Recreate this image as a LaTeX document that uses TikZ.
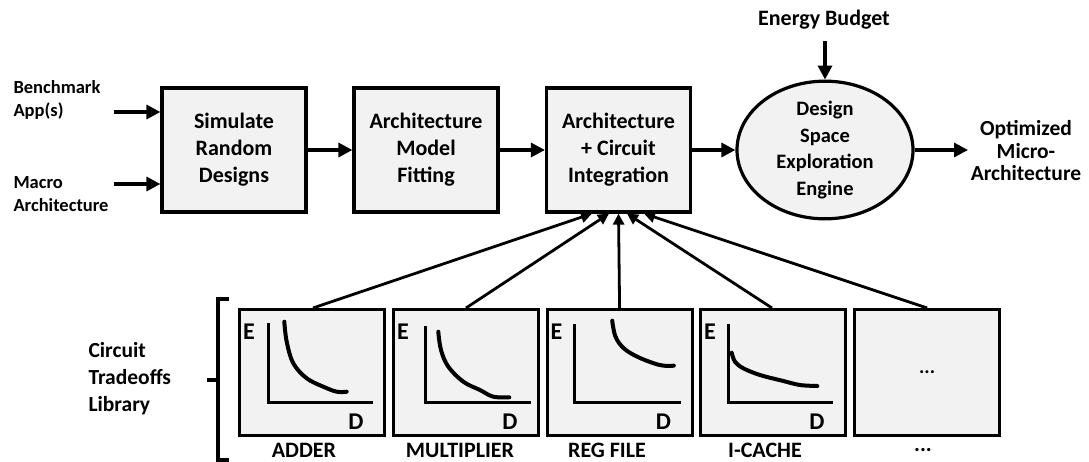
\documentclass[tikz,border=0pt]{standalone}
\usepackage{fontspec}
\setmainfont{Carlito}
\usetikzlibrary{arrows.meta,shapes.geometric}

\definecolor{boxfill}{HTML}{F2F2F2}

\tikzset{
  x=1pt, y=-1pt,
  every node/.style={font=\bfseries},
  stage/.style={draw, line width=3.2pt, fill=boxfill, minimum width=144pt, minimum height=124pt,
                align=center, inner sep=0pt, font=\fontsize{22}{27}\selectfont\bfseries},
  engine/.style={draw, ellipse, line width=3.2pt, fill=boxfill, minimum width=176pt, minimum height=126pt,
                 align=center, inner sep=0pt, font=\fontsize{20.5}{26.5}\selectfont\bfseries},
  lib/.style={draw, line width=3.2pt, fill=boxfill, minimum width=145pt, minimum height=126pt,
              inner sep=0pt, anchor=north west},
  flow/.style={line width=3.2pt, -{Triangle[length=14pt,width=14pt]}},
  feed/.style={line width=2.8pt, -{Triangle[length=11pt,width=11pt]}},
  label/.style={align=left, anchor=west, font=\fontsize{18.5}{22.5}\selectfont\bfseries},
  caption/.style={inner sep=1pt, font=\fontsize{22}{24}\selectfont\bfseries},
  axislbl/.style={font=\fontsize{24}{26}\selectfont\bfseries},
  curve/.style={line width=4pt, line cap=round},
  axis/.style={line width=3pt}
}

% E-D tradeoff plot inside a library box:
% #1 box name, #2 axis x, #3 axis top, #4 axis right end, #5 curve points
\newcommand{\tradeoff}[5]{%
  \begin{scope}[shift={(#1.north west)}]
    \node[axislbl] at (11,24) {E};
    \node[axislbl] at (118,114) {D};
    \draw[axis] (#2,#3) -- (#2,94) -- (#4,94);
    \draw[curve] plot[smooth, tension=0.6] coordinates {#5};
  \end{scope}%
}

\begin{document}
\begin{tikzpicture}
\useasboundingbox (0,0) rectangle (1089,462);

% main pipeline
\node[stage] (sim) at (234,150) {Simulate\\Random\\Designs};
\node[stage] (fit) at (426,150) {Architecture\\Model\\Fitting};
\node[stage] (integ) at (618.5,150) {Architecture\\+ Circuit\\Integration};
\node[engine] (dse) at (825,150) {Design\\Space\\Exploration\\Engine};

% inputs and output
\node[label] (bench) at (10,100) {Benchmark\\App(s)};
\node[label] (macro) at (10,194) {Macro\\Architecture};
\coordinate (benchin) at (114,112);
\coordinate (macroin) at (114,184);
\draw[flow] (benchin) -- (benchin -| sim.west);
\draw[flow] (macroin) -- (macroin -| sim.west);

\node[font=\fontsize{22}{24}\selectfont\bfseries] (budget) at (824,20) {Energy Budget};
\coordinate (budgetout) at (825,41);
\draw[flow] (budgetout) -- (dse.north);

\node[align=center, font=\fontsize{21.5}{22.5}\selectfont\bfseries] (opt) at (1026,151) {Optimized\\Micro-\\Architecture};
\coordinate (optin) at (968,150);

\draw[flow] (sim) -- (fit);
\draw[flow] (fit) -- (integ);
\draw[flow] (integ.east) -- (dse.west);
\draw[flow] (dse.east) -- (optin);

% circuit tradeoffs library
\node[lib] (adder) at (238,308) {};
\node[lib] (mult) at (392,308) {};
\node[lib] (reg) at (545.5,308) {};
\node[lib] (icache) at (699,308) {};
\node[lib] (more) at (853,308) {};
\node[font=\fontsize{20}{22}\selectfont\bfseries] at (more.center) {...};

\tradeoff{adder}{30}{15}{135}{(46.3,13.7) (48.7,33.7) (55.3,55.3) (68.7,70.3) (85.3,78.7) (98.7,83.7) (108.7,83.7)}
\tradeoff{mult}{33}{18}{139}{(46.3,23.7) (49,42) (56.3,58.7) (71.3,73.7) (88,82) (101.3,88.7) (117.3,89.3)}
\tradeoff{reg}{29}{16}{135}{(66.7,12.7) (70,28.7) (78.3,40.3) (91.7,48.7) (108.3,55.3) (118.3,57.7) (128.3,57.7)}
\tradeoff{icache}{29}{16}{134}{(32.7,44.7) (36,53.7) (44.3,60.3) (61,67) (84.3,73) (101,77) (118.3,78)}

\node[caption] at (304,450) {ADDER};
\node[caption] at (460,450) {MULTIPLIER};
\node[caption] at (607,450) {REG FILE};
\node[caption] at (765,450) {I-CACHE};
\node[caption] at (923,450) {...};

% connections into the integration stage
\draw[feed] (adder.north -| 313,0) -- (integ.south -| 592,0);
\draw[feed] (mult.north -| 466,0) -- (integ.south -| 609,0);
\draw[feed] (reg.north) -- (integ.south);
\draw[feed] (icache.north -| 772,0) -- (integ.south -| 627,0);
\draw[feed] (more.north) -- (integ.south -| 644,0);

% library bracket and title
\node[label, font=\fontsize{21.5}{27}\selectfont\bfseries] (libname) at (85,379) {Circuit\\Tradeoffs\\Library};
\draw[line width=3.6pt] (229,299) -- (218,299) -- (218,460) -- (229,460);
\draw[line width=3.6pt] (218,380) -- (207,380);
\end{tikzpicture}
\end{document}
